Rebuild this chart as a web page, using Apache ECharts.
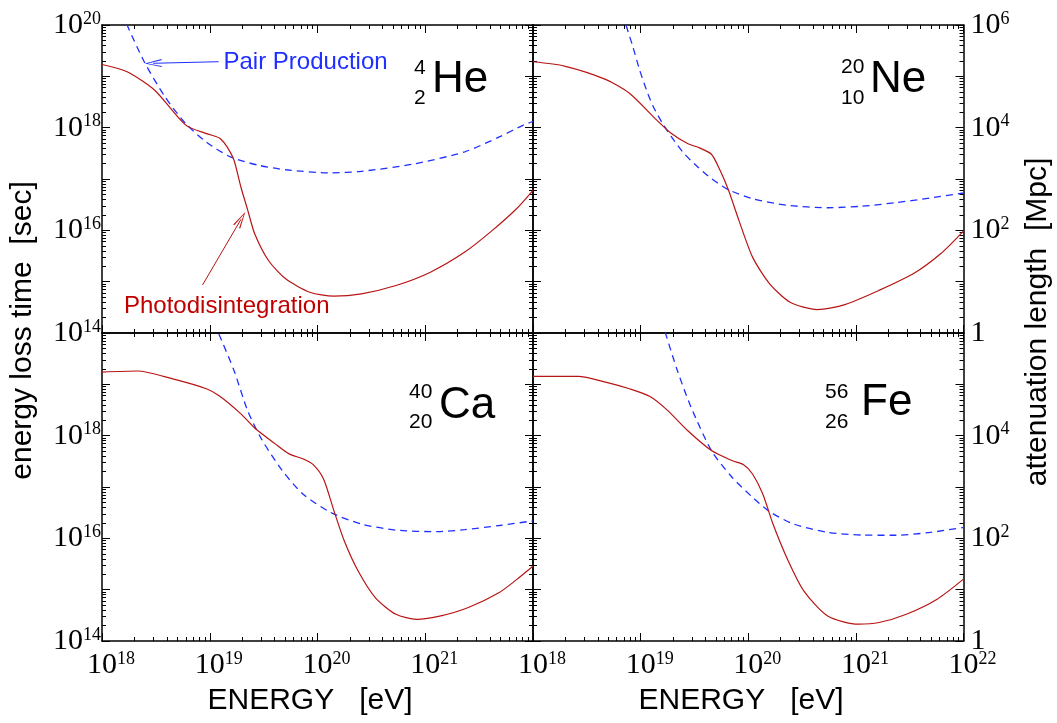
<!DOCTYPE html>
<html><head><meta charset="utf-8">
<script src="https://cdn.jsdelivr.net/npm/echarts@6/dist/echarts.min.js"></script>
<style>html,body{margin:0;padding:0;background:#fff}#c{width:1057px;height:723px}</style>
</head><body><div id="c"></div>
<script>
// ---- data (log10 of energy [eV] and log10 of energy loss time [sec]) ----
const heRedE = [18.0, 18.233, 18.489, 18.777, 18.969, 19.049, 19.097, 19.161, 19.225, 19.289, 19.353, 19.417, 19.545, 19.705, 19.928, 20.152, 20.408, 20.728, 21.048, 21.367, 21.623, 21.847, 22.0];
const heRedT = [19.23, 19.09, 18.73, 18.05, 17.885, 17.833, 17.79, 17.625, 17.365, 16.844, 16.389, 15.934, 15.413, 15.055, 14.795, 14.717, 14.763, 14.925, 15.185, 15.576, 15.999, 16.42, 16.78];
const heBlueE = [18.15, 18.233, 18.393, 18.585, 18.777, 18.969, 19.193, 19.449, 19.705, 20.12, 20.408, 20.888, 21.367, 21.687, 21.911, 22.0];
const heBlueT = [20.45, 20.0, 19.28, 18.6, 18.08, 17.72, 17.43, 17.27, 17.18, 17.12, 17.15, 17.29, 17.53, 17.82, 18.05, 18.12];

const neRedE = [18.0, 18.292, 18.674, 18.896, 19.15, 19.277, 19.436, 19.547, 19.658, 19.738, 19.817, 19.913, 20.04, 20.199, 20.389, 20.643, 20.898, 21.215, 21.533, 21.787, 22.0];
const neRedT = [19.284, 19.2, 18.94, 18.67, 18.146, 17.9, 17.69, 17.606, 17.482, 17.17, 16.78, 16.194, 15.478, 14.958, 14.6, 14.457, 14.554, 14.83, 15.153, 15.543, 15.986];
const neBlueE = [18.80, 18.864, 18.928, 18.991, 19.055, 19.118, 19.214, 19.309, 19.404, 19.531, 19.658, 19.817, 20.04, 20.357, 20.739, 21.056, 21.374, 21.692, 22.0];
const neBlueT = [20.44, 20.0, 19.577, 19.122, 18.731, 18.406, 18.048, 17.755, 17.495, 17.235, 17.007, 16.79, 16.617, 16.49, 16.44, 16.47, 16.54, 16.63, 16.727];

const caRedE = [18.0, 18.329, 18.649, 18.969, 19.097, 19.289, 19.417, 19.608, 19.736, 19.864, 19.96, 20.056, 20.152, 20.248, 20.376, 20.536, 20.728, 20.92, 21.144, 21.4, 21.687, 21.85, 22.0];
const caRedT = [19.239, 19.26, 19.11, 18.913, 18.763, 18.425, 18.15, 17.84, 17.645, 17.55, 17.436, 17.157, 16.54, 15.952, 15.367, 14.846, 14.52, 14.423, 14.489, 14.652, 14.945, 15.2, 15.46];
const caBlueE = [19.0, 19.081, 19.225, 19.353, 19.481, 19.673, 19.864, 20.12, 20.408, 20.728, 21.112, 21.367, 21.687, 22.0];
const caBlueT = [20.41, 20.0, 19.27, 18.48, 17.93, 17.32, 16.865, 16.506, 16.278, 16.16, 16.13, 16.17, 16.25, 16.34];

const feRedE = [18.0, 18.419, 18.674, 18.896, 19.087, 19.245, 19.436, 19.658, 19.849, 19.96, 20.04, 20.135, 20.23, 20.357, 20.516, 20.738, 21.024, 21.215, 21.469, 21.755, 22.0];
const feRedT = [19.154, 19.154, 19.044, 18.913, 18.763, 18.503, 18.1, 17.71, 17.515, 17.43, 17.254, 16.864, 16.278, 15.628, 14.977, 14.489, 14.327, 14.36, 14.522, 14.815, 15.205];
const feBlueE = [19.16, 19.23, 19.341, 19.468, 19.658, 19.849, 20.04, 20.199, 20.421, 20.739, 21.056, 21.374, 21.692, 22.0];
const feBlueT = [20.46, 20.0, 19.271, 18.556, 17.71, 17.19, 16.8, 16.52, 16.28, 16.116, 16.064, 16.06, 16.115, 16.213];

// annotation arrows (log10 E, log10 t): [start, end]
const pairArrow = [[19.083, 19.285], [18.475, 19.254]];
const photoArrow = [[18.933, 14.935], [19.29, 16.215]];

// axis ranges / ticks (log10)
const xExp = [18, 22];
const yExpTime = [14, 20];
const yExpLen = [0, 6];
const nuclei = [
  {sym: 'He', A: '4', Z: '2'},
  {sym: 'Ne', A: '20', Z: '10'},
  {sym: 'Ca', A: '40', Z: '20'},
  {sym: 'Fe', A: '56', Z: '26'}
];

const RED = '#b81414';
const BLUE = '#1f2fff';
const SERIF = 'Liberation Serif';
const SANS = 'Liberation Sans';

function pts(E, T) { return E.map((e, i) => [Math.pow(10, e), Math.pow(10, T[i])]); }
function p10(p) { return [Math.pow(10, p[0]), Math.pow(10, p[1])]; }
function expOf(v) { return Math.round(Math.log10(v)); }

const GRIDS = [
  {left: 102, top: 25, width: 431, height: 308},
  {left: 533, top: 25, width: 430.5, height: 308},
  {left: 102, top: 333, width: 431, height: 308},
  {left: 533, top: 333, width: 430.5, height: 308}
];

const richNum = {
  b: {fontFamily: SERIF, fontSize: 30, lineHeight: 30, color: '#000'},
  s: {fontFamily: SERIF, fontSize: 18, lineHeight: 22, verticalAlign: 'top', color: '#000'},
  sp: {fontFamily: SERIF, fontSize: 18, width: 18, lineHeight: 22}
};

const tickCommon = {
  axisTick: {show: true, inside: true, length: 8, lineStyle: {color: '#000', width: 1}},
  minorTick: {show: true, splitNumber: 9, length: 4, lineStyle: {color: '#000', width: 1}},
  splitLine: {show: false},
  minorSplitLine: {show: false},
  axisLine: {show: true, onZero: false, lineStyle: {color: '#000', width: 1.5}}
};

const xAxis = [], yAxis = [];
GRIDS.forEach((g, i) => {
  const isBottom = i >= 2, isRight = (i % 2) === 1;
  xAxis.push(Object.assign({
    type: 'log', logBase: 10, gridIndex: i, position: 'bottom',
    min: Math.pow(10, xExp[0]), max: Math.pow(10, xExp[1]), interval: 1,
    axisLabel: {
      show: isBottom, margin: 9, showMinLabel: true, showMaxLabel: true, hideOverlap: false,
      formatter: v => {
        const e = expOf(v);
        if (!isRight && e === 22) return '';
        return '{sp|\u00a0}{b|10}{s|' + e + '}';
      },
      rich: richNum
    }
  }, tickCommon));
  xAxis.push(Object.assign({
    type: 'log', logBase: 10, gridIndex: i, position: 'top',
    min: Math.pow(10, xExp[0]), max: Math.pow(10, xExp[1]), interval: 1,
    axisLabel: {show: false}
  }, tickCommon));
  yAxis.push(Object.assign({
    type: 'log', logBase: 10, gridIndex: i, position: 'left',
    min: Math.pow(10, yExpTime[0]), max: Math.pow(10, yExpTime[1]), interval: 1,
    axisLabel: {
      show: !isRight, margin: 1, showMinLabel: true, showMaxLabel: true, hideOverlap: false,
      formatter: v => {
        const e = expOf(v);
        if (e % 2 !== 0) return '';
        if (isBottom && e === 20) return '';
        return '{b|10}{s|' + e + '}';
      },
      rich: richNum
    }
  }, tickCommon));
  yAxis.push(Object.assign({
    type: 'log', logBase: 10, gridIndex: i, position: 'right',
    min: Math.pow(10, yExpLen[0]), max: Math.pow(10, yExpLen[1]), interval: 1,
    axisLabel: {
      show: isRight, margin: 7, showMinLabel: true, showMaxLabel: true, hideOverlap: false,
      formatter: v => {
        const e = expOf(v);
        if (e % 2 !== 0) return '';
        if (isBottom && e === 6) return '';
        if (e === 0) return '{b|1}';
        return '{b|10}{s|' + e + '}';
      },
      rich: richNum
    }
  }, tickCommon));
});

const ARROW = 'path://M5,0L10,20L8.5,20L5,3.5L1.5,20L0,20Z';
const redData = [pts(heRedE, heRedT), pts(neRedE, neRedT), pts(caRedE, caRedT), pts(feRedE, feRedT)];
const blueData = [pts(heBlueE, heBlueT), pts(neBlueE, neBlueT), pts(caBlueE, caBlueT), pts(feBlueE, feBlueT)];

const series = [];
GRIDS.forEach((g, i) => {
  const red = {
    type: 'line', name: 'Photodisintegration ' + nuclei[i].sym, xAxisIndex: 2 * i, yAxisIndex: 2 * i,
    data: redData[i], showSymbol: false, symbol: 'none', smooth: 0.25, clip: true, silent: true,
    lineStyle: {color: RED, width: 1.2}, z: 3
  };
  if (i === 0) {
    red.markLine = {
      silent: true, animation: false, symbol: ['none', ARROW], symbolSize: [8, 17],
      label: {show: false}, emphasis: {disabled: true},
      lineStyle: {type: 'solid', width: 1},
      data: [
        [{coord: p10(photoArrow[0]), lineStyle: {color: RED, type: 'solid', width: 1}, itemStyle: {color: RED}}, {coord: p10(photoArrow[1])}],
        [{coord: p10(pairArrow[0]), lineStyle: {color: BLUE, type: 'solid', width: 1}, itemStyle: {color: BLUE}}, {coord: p10(pairArrow[1])}]
      ]
    };
  }
  series.push(red);
  series.push({
    type: 'line', name: 'Pair Production ' + nuclei[i].sym, xAxisIndex: 2 * i, yAxisIndex: 2 * i,
    data: blueData[i], showSymbol: false, symbol: 'none', smooth: 0.25, clip: true, silent: true,
    lineStyle: {color: BLUE, width: 1.3, type: [7, 5]}, z: 2
  });
});

function txt(x, y, text, size, family, color, extra) {
  return Object.assign({type: 'text', x: x, y: y, silent: true,
    style: {text: text, fontSize: size, fontFamily: family, fill: color, align: 'left', verticalAlign: 'middle'}}, extra || {});
}
const nucPos = [
  {x: 432, y: 80, nx: 414, ay: 68.5, zy: 98},
  {x: 870, y: 80, nx: 841, ay: 67.5, zy: 98},
  {x: 439, y: 406, nx: 409, ay: 392.5, zy: 422.5},
  {x: 861, y: 403, nx: 825, ay: 392.5, zy: 422.5}
];
const graphic = [];
nuclei.forEach((n, i) => {
  const p = nucPos[i];
  graphic.push(txt(p.x, p.y, n.sym, 44, SANS, '#000'));
  graphic.push(txt(p.nx, p.ay, n.A, 21, SANS, '#000'));
  graphic.push(txt(p.nx, p.zy, n.Z, 21, SANS, '#000'));
});
graphic.push(txt(223.5, 62.5, 'Pair Production', 24, SANS, BLUE));
graphic.push(txt(124, 306.5, 'Photodisintegration', 24, SANS, '#c00000'));
graphic.push({type: 'text', x: 310, y: 701, silent: true, style: {text: 'ENERGY   [eV]', fontSize: 30, fontFamily: SANS, fill: '#000', align: 'center', verticalAlign: 'middle'}});
graphic.push({type: 'text', x: 741, y: 701, silent: true, style: {text: 'ENERGY   [eV]', fontSize: 30, fontFamily: SANS, fill: '#000', align: 'center', verticalAlign: 'middle'}});
graphic.push({type: 'text', x: 23, y: 330.5, rotation: Math.PI / 2, silent: true, style: {text: 'energy loss time  [sec]', fontSize: 30, fontFamily: SANS, fill: '#000', align: 'center', verticalAlign: 'middle'}});
graphic.push({type: 'text', x: 1038, y: 322, rotation: Math.PI / 2, silent: true, style: {text: 'attenuation length  [Mpc]', fontSize: 30, fontFamily: SANS, fill: '#000', align: 'center', verticalAlign: 'middle'}});

const chart = echarts.init(document.getElementById('c'), null, {renderer: 'canvas'});
chart.setOption({
  animation: false,
  backgroundColor: '#ffffff',
  textStyle: {fontFamily: SANS},
  grid: GRIDS.map(g => Object.assign({containLabel: false, outerBoundsMode: 'none', show: false}, g)),
  xAxis: xAxis,
  yAxis: yAxis,
  series: series,
  graphic: graphic
});
</script></body></html>
